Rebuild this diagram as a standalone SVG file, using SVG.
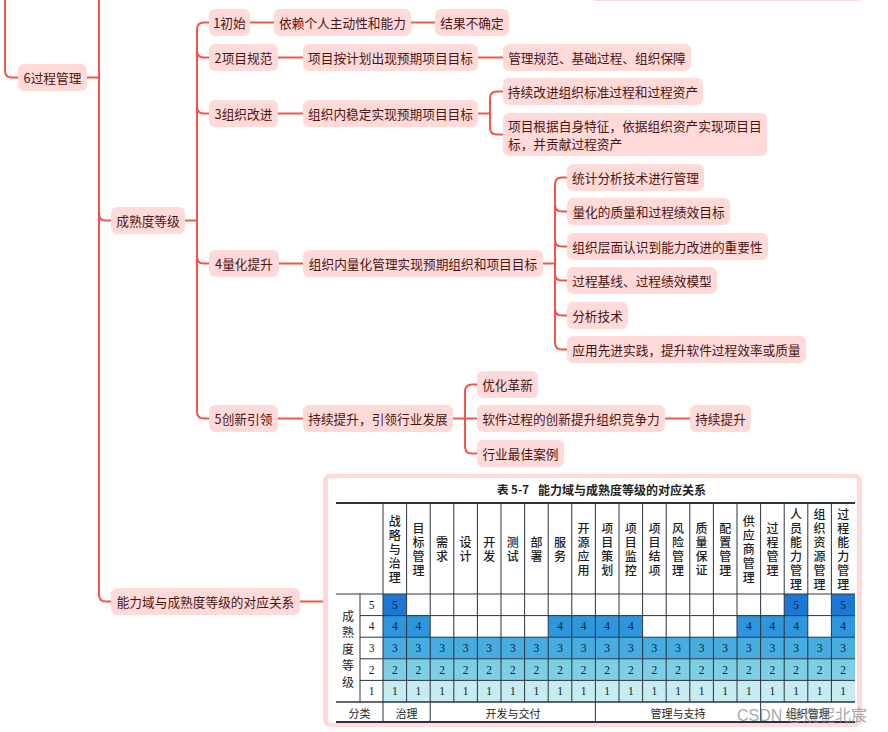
<svg xmlns="http://www.w3.org/2000/svg" width="888" height="732" viewBox="0 0 888 732">
<style>
.node rect{fill:#ffdad8}
.node text{font-family:"Noto Sans CJK SC","Noto Sans",sans-serif;font-size:12.7px;fill:#4a1414;dominant-baseline:central;text-anchor:middle}
.conn path{fill:none;stroke:#f4544a;stroke-width:2}
.grid{fill:none;stroke:#2a3440;stroke-width:1}
.hd{font-family:"Noto Sans CJK SC",sans-serif;font-size:12px;font-weight:500;fill:#1e1e1e;dominant-baseline:central;text-anchor:middle}
.num{font-family:"Liberation Serif",serif;font-size:11.5px;fill:#15202e;dominant-baseline:central;text-anchor:middle}
.ft{font-family:"Noto Sans CJK SC",sans-serif;font-size:11px;fill:#1e1e1e;dominant-baseline:central;text-anchor:middle}
</style>
<rect width="888" height="732" fill="#ffffff"/>
<g class="conn">
<path d="M5,0 V70.5 Q5,77.5 12,77.5 H18"/>
<path d="M87,77.5 H99"/>
<path d="M99,0 V594.5 Q99,601.5 106,601.5 H111"/>
<path d="M99,213.5 Q99,220.5 106,220.5 H111"/>
<path d="M185,220.5 H197"/>
<path d="M209,22.5 H204 Q197,22.5 197,29.5 V411.5 Q197,418.5 204,418.5 H209"/>
<path d="M197,50.5 Q197,57.5 204,57.5 H209"/>
<path d="M197,106.5 Q197,113.5 204,113.5 H209"/>
<path d="M197,256.5 Q197,263.5 204,263.5 H209"/>
<path d="M250,22.5 H274"/>
<path d="M411,22.5 H435"/>
<path d="M278,57.5 H303"/>
<path d="M478,57.5 H503"/>
<path d="M278,113.5 H303"/>
<path d="M478,113.5 H490"/>
<path d="M503,91.5 H497 Q490,91.5 490,98.5 V127.5 Q490,134.5 497,134.5 H503"/>
<path d="M279,263.5 H303"/>
<path d="M543,263.5 H555"/>
<path d="M567,177.5 H562 Q555,177.5 555,184.5 V342.5 Q555,349.5 562,349.5 H567"/>
<path d="M555,204.5 Q555,211.5 562,211.5 H567"/>
<path d="M555,239.5 Q555,246.5 562,246.5 H567"/>
<path d="M555,273.5 Q555,280.5 562,280.5 H567"/>
<path d="M555,308.5 Q555,315.5 562,315.5 H567"/>
<path d="M278,418.5 H303"/>
<path d="M453,418.5 H477"/>
<path d="M477,384.5 H472 Q465,384.5 465,391.5 V446.5 Q465,453.5 472,453.5 H477"/>
<path d="M665,418.5 H690"/>
<path d="M300,601.5 H323"/>
</g>
<g id="n-top" class="node"><rect x="590" y="-26" width="273" height="27" rx="6"/></g>
<g id="n-gc" class="node"><rect x="18" y="64" width="69" height="27" rx="6"/><text x="52.5" y="77.5">6过程管理</text></g>
<g id="n-csd" class="node"><rect x="111" y="207" width="74" height="27" rx="6"/><text x="148" y="220.5">成熟度等级</text></g>
<g id="n-dy" class="node"><rect x="111" y="588" width="189" height="27" rx="6"/><text x="205.5" y="601.5">能力域与成熟度等级的对应关系</text></g>
<g id="n-l1" class="node"><rect x="209" y="9" width="41" height="27" rx="6"/><text x="229.5" y="22.5">1初始</text></g>
<g id="n-l2" class="node"><rect x="209" y="44" width="69" height="27" rx="6"/><text x="243.5" y="57.5">2项目规范</text></g>
<g id="n-l3" class="node"><rect x="209" y="100" width="69" height="27" rx="6"/><text x="243.5" y="113.5">3组织改进</text></g>
<g id="n-l4" class="node"><rect x="209" y="250" width="70" height="27" rx="6"/><text x="244" y="263.5">4量化提升</text></g>
<g id="n-l5" class="node"><rect x="209" y="405" width="69" height="27" rx="6"/><text x="243.5" y="418.5">5创新引领</text></g>
<g id="n-l1a" class="node"><rect x="274" y="9" width="137" height="27" rx="6"/><text x="342.5" y="22.5">依赖个人主动性和能力</text></g>
<g id="n-l1b" class="node"><rect x="435" y="9" width="74" height="27" rx="6"/><text x="472" y="22.5">结果不确定</text></g>
<g id="n-l2a" class="node"><rect x="303" y="44" width="175" height="27" rx="6"/><text x="390.5" y="57.5">项目按计划出现预期项目目标</text></g>
<g id="n-l2b" class="node"><rect x="503" y="44" width="188" height="27" rx="6"/><text x="597" y="57.5">管理规范、基础过程、组织保障</text></g>
<g id="n-l3a" class="node"><rect x="303" y="100" width="175" height="27" rx="6"/><text x="390.5" y="113.5">组织内稳定实现预期项目目标</text></g>
<g id="n-l3b" class="node"><rect x="503" y="78" width="200" height="27" rx="6"/><text x="603" y="91.5">持续改进组织标准过程和过程资产</text></g>
<g id="n-l3c" class="node"><rect x="503" y="113" width="264" height="43" rx="6"/><text x="508" y="125.5" style="text-anchor:start">项目根据自身特征，依据组织资产实现项目目</text><text x="508" y="143.5" style="text-anchor:start">标，并贡献过程资产</text></g>
<g id="n-l4a" class="node"><rect x="303" y="250" width="240" height="27" rx="6"/><text x="423" y="263.5">组织内量化管理实现预期组织和项目目标</text></g>
<g id="n-l4b" class="node"><rect x="567" y="164" width="137" height="27" rx="6"/><text x="635.5" y="177.5">统计分析技术进行管理</text></g>
<g id="n-l4c" class="node"><rect x="567" y="198" width="163" height="27" rx="6"/><text x="648.5" y="211.5">量化的质量和过程绩效目标</text></g>
<g id="n-l4d" class="node"><rect x="567" y="233" width="201" height="27" rx="6"/><text x="667.5" y="246.5">组织层面认识到能力改进的重要性</text></g>
<g id="n-l4e" class="node"><rect x="567" y="267" width="150" height="27" rx="6"/><text x="642" y="280.5">过程基线、过程绩效模型</text></g>
<g id="n-l4f" class="node"><rect x="567" y="302" width="61" height="27" rx="6"/><text x="597.5" y="315.5">分析技术</text></g>
<g id="n-l4g" class="node"><rect x="567" y="336" width="239" height="27" rx="6"/><text x="686.5" y="349.5">应用先进实践，提升软件过程效率或质量</text></g>
<g id="n-l5a" class="node"><rect x="303" y="405" width="150" height="27" rx="6"/><text x="378" y="418.5">持续提升，引领行业发展</text></g>
<g id="n-l5b" class="node"><rect x="477" y="371" width="61" height="27" rx="6"/><text x="507.5" y="384.5">优化革新</text></g>
<g id="n-l5c" class="node"><rect x="477" y="405" width="188" height="27" rx="6"/><text x="571" y="418.5">软件过程的创新提升组织竞争力</text></g>
<g id="n-l5d" class="node"><rect x="690" y="405" width="61" height="27" rx="6"/><text x="720.5" y="418.5">持续提升</text></g>
<g id="n-l5e" class="node"><rect x="477" y="440" width="87" height="27" rx="6"/><text x="520.5" y="453.5">行业最佳案例</text></g>
<g id="n-table">
<rect x="323" y="474" width="539" height="253" rx="7" fill="#ffdad8"/>
<rect x="328" y="478" width="529" height="245" rx="3" fill="#ffffff"/>
<text x="497" y="489" style="font-family:'Noto Sans CJK SC',sans-serif;font-size:11.5px;font-weight:bold;fill:#1e1e1e;dominant-baseline:central">表 5-7</text>
<text x="538" y="489" style="font-family:'Noto Sans CJK SC',sans-serif;font-size:12px;font-weight:bold;fill:#1e1e1e;dominant-baseline:central">能力域与成熟度等级的对应关系</text>
<rect x="383" y="637.2" width="472" height="21.6" fill="#45addf"/>
<rect x="383" y="658.8" width="472" height="21.6" fill="#7dcfe5"/>
<rect x="383" y="680.4" width="472" height="21.6" fill="#c6ecf1"/>
<g fill="#2d96dc">
<rect x="383" y="615.6" width="47.2" height="21.6"/>
<rect x="548.2" y="615.6" width="94.4" height="21.6"/>
<rect x="737" y="615.6" width="70.8" height="21.6"/>
<rect x="831.4" y="615.6" width="23.6" height="21.6"/>
</g>
<g fill="#1c78d6">
<rect x="383" y="594" width="23.6" height="21.6"/>
<rect x="784.2" y="594" width="23.6" height="21.6"/>
<rect x="831.4" y="594" width="23.6" height="21.6"/>
</g>
<path class="grid" d="M336,594 H855 M360,615.6 H855 M360,637.2 H855 M360,658.8 H855 M360,680.4 H855 M360,594 V702 M383,503 V722 M406.6,503 V702 M430.2,503 V722 M453.8,503 V702 M477.4,503 V702 M501,503 V702 M524.6,503 V702 M548.2,503 V702 M571.8,503 V702 M595.4,503 V722 M619,503 V702 M642.6,503 V702 M666.2,503 V702 M689.8,503 V702 M713.4,503 V702 M737,503 V702 M760.6,503 V722 M784.2,503 V702 M807.8,503 V702 M831.4,503 V702"/>
<path d="M336,503 H855 M336,722 H855" fill="none" stroke="#2a3440" stroke-width="2"/>
<path d="M336,702 H855" fill="none" stroke="#2a3440" stroke-width="1.5"/>
<text class="hd" x="394.8 394.8 394.8 394.8 394.8" y="520.5 534.5 548.5 562.5 576.5">战略与治理</text>
<text class="hd" x="418.4 418.4 418.4 418.4" y="527.5 541.5 555.5 569.5">目标管理</text>
<text class="hd" x="442 442" y="541.5 555.5">需求</text>
<text class="hd" x="465.6 465.6" y="541.5 555.5">设计</text>
<text class="hd" x="489.2 489.2" y="541.5 555.5">开发</text>
<text class="hd" x="512.8 512.8" y="541.5 555.5">测试</text>
<text class="hd" x="536.4 536.4" y="541.5 555.5">部署</text>
<text class="hd" x="560 560" y="541.5 555.5">服务</text>
<text class="hd" x="583.6 583.6 583.6 583.6" y="527.5 541.5 555.5 569.5">开源应用</text>
<text class="hd" x="607.2 607.2 607.2 607.2" y="527.5 541.5 555.5 569.5">项目策划</text>
<text class="hd" x="630.8 630.8 630.8 630.8" y="527.5 541.5 555.5 569.5">项目监控</text>
<text class="hd" x="654.4 654.4 654.4 654.4" y="527.5 541.5 555.5 569.5">项目结项</text>
<text class="hd" x="678 678 678 678" y="527.5 541.5 555.5 569.5">风险管理</text>
<text class="hd" x="701.6 701.6 701.6 701.6" y="527.5 541.5 555.5 569.5">质量保证</text>
<text class="hd" x="725.2 725.2 725.2 725.2" y="527.5 541.5 555.5 569.5">配置管理</text>
<text class="hd" x="748.8 748.8 748.8 748.8 748.8" y="520.5 534.5 548.5 562.5 576.5">供应商管理</text>
<text class="hd" x="772.4 772.4 772.4 772.4" y="527.5 541.5 555.5 569.5">过程管理</text>
<text class="hd" x="796 796 796 796 796 796" y="513.5 527.5 541.5 555.5 569.5 583.5">人员能力管理</text>
<text class="hd" x="819.6 819.6 819.6 819.6 819.6 819.6" y="513.5 527.5 541.5 555.5 569.5 583.5">组织资源管理</text>
<text class="hd" x="843.2 843.2 843.2 843.2 843.2 843.2" y="513.5 527.5 541.5 555.5 569.5 583.5">过程能力管理</text>
<text class="hd" x="348 348 348 348 348" y="615 631.5 648 664.5 681" style="font-weight:400">成熟度等级</text>
<text class="num" x="371.5 371.5 371.5 371.5 371.5" y="604.8 626.4 648 669.6 691.2">54321</text>
<text class="num" x="394.8 796 843.2" y="604.8 604.8 604.8">555</text>
<text class="num" x="394.8 418.4 560 583.6 607.2 630.8 748.8 772.4 796 843.2" y="626.4">4444444444</text>
<text class="num" x="394.8 418.4 442 465.6 489.2 512.8 536.4 560 583.6 607.2 630.8 654.4 678 701.6 725.2 748.8 772.4 796 819.6 843.2" y="648">33333333333333333333</text>
<text class="num" x="394.8 418.4 442 465.6 489.2 512.8 536.4 560 583.6 607.2 630.8 654.4 678 701.6 725.2 748.8 772.4 796 819.6 843.2" y="669.6">22222222222222222222</text>
<text class="num" x="394.8 418.4 442 465.6 489.2 512.8 536.4 560 583.6 607.2 630.8 654.4 678 701.6 725.2 748.8 772.4 796 819.6 843.2" y="691.2">11111111111111111111</text>
<text class="ft" x="359.5" y="712.5">分类</text>
<text class="ft" x="406.6" y="712.5">治理</text>
<text class="ft" x="513" y="712.5">开发与交付</text>
<text class="ft" x="678" y="712.5">管理与支持</text>
<text class="ft" x="807.8" y="712.5">组织管理</text>
<text x="737" y="721" style="font-family:'Liberation Sans','Noto Sans CJK SC',sans-serif;font-size:16px;fill:#8a8a8a;fill-opacity:0.75">CSDN @烧柅北宸</text>
</g>
</svg>
